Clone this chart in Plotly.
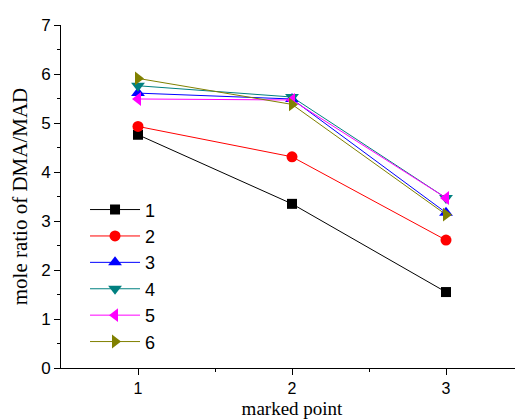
import plotly.graph_objects as go

x_points = [1, 2, 3]
series_names = ["1", "2", "3", "4", "5", "6"]
s1 = [4.76, 3.35, 1.55]
s2 = [4.93, 4.31, 2.61]
s3 = [5.61, 5.49, 3.17]
s4 = [5.76, 5.53, 3.47]
s5 = [5.49, 5.47, 3.47]
s6 = [5.91, 5.38, 3.13]
all_series = [s1, s2, s3, s4, s5, s6]

colors = ["#000000", "#ff0000", "#0000ff", "#008080", "#ff00ff", "#808000"]
symbols = ["square", "circle", "triangle-up", "triangle-down", "triangle-left", "triangle-right"]
sizes = [10, 11, 12, 12, 12, 12]

fig = go.Figure()
for name, ys, c, s, sz in zip(series_names, all_series, colors, symbols, sizes):
    fig.add_trace(go.Scatter(
        x=x_points, y=ys, name=name, mode="lines+markers",
        line=dict(color=c, width=1),
        marker=dict(symbol=s, size=sz, color=c, line=dict(width=0)),
    ))

fig.update_layout(
    width=515, height=411,
    margin=dict(l=53, r=0, t=17, b=51),
    plot_bgcolor="white", paper_bgcolor="white",
    showlegend=True,
    legend=dict(
        x=0.052, y=0.515, xanchor="left", yanchor="top",
        font=dict(family="Liberation Sans, Arial", size=18, color="black"),
        bgcolor="rgba(0,0,0,0)", tracegroupgap=0, itemwidth=50,
    ),
    font=dict(family="Liberation Sans, Arial", size=16, color="black"),
)
fig.update_xaxes(
    range=[0.5, 3.5], tickmode="array", tickvals=[1, 2, 3],
    ticks="outside", ticklen=6, tickwidth=1, tickcolor="black",
    minor=dict(tickvals=[1.5, 2.5], ticks="outside", ticklen=3, tickcolor="black"),
    showline=True, linecolor="black", linewidth=1, showgrid=False, zeroline=False,
    tickfont=dict(family="Liberation Sans, Arial", size=16),
    title=dict(text="marked point", font=dict(family="Liberation Serif, Times New Roman", size=19), standoff=5),
)
fig.update_yaxes(
    range=[0, 7], tickmode="array", tickvals=[0, 1, 2, 3, 4, 5, 6, 7],
    ticks="outside", ticklen=6, tickwidth=1, tickcolor="black",
    minor=dict(dtick=0.5, ticks="outside", ticklen=3, tickcolor="black"),
    showline=True, linecolor="black", linewidth=1, showgrid=False, zeroline=False,
    tickfont=dict(family="Liberation Sans, Arial", size=17),
    title=dict(text="mole ratio of DMA/MAD", font=dict(family="Liberation Serif, Times New Roman", size=21), standoff=7),
)
fig.write_html("out.html")
